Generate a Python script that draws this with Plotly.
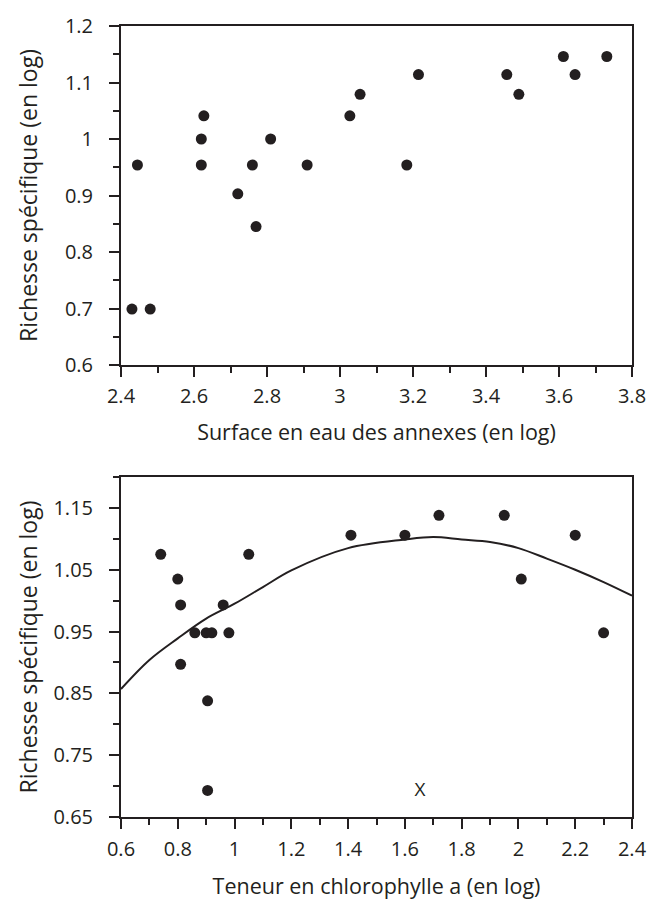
import plotly.graph_objects as go

# --- Top panel: surface en eau vs richesse spécifique ---
surface_x = [2.43, 2.48, 2.445, 2.62, 2.62, 2.627, 2.72, 2.76, 2.77, 2.81, 2.91,
             3.027, 3.055, 3.183, 3.215, 3.457, 3.49, 3.612, 3.644, 3.731]
surface_y = [0.699, 0.699, 0.954, 0.954, 1.0, 1.041, 0.903, 0.954, 0.845, 1.0, 0.954,
             1.041, 1.079, 0.954, 1.114, 1.114, 1.079, 1.146, 1.114, 1.146]

# --- Bottom panel: chlorophylle a vs richesse spécifique ---
chloro_x = [0.74, 0.80, 0.81, 0.81, 0.86, 0.90, 0.92, 0.96, 0.98, 0.905, 0.905,
            1.05, 1.41, 1.60, 1.72, 1.95, 2.01, 2.20, 2.30]
chloro_y = [1.075, 1.035, 0.993, 0.897, 0.948, 0.948, 0.948, 0.993, 0.948, 0.838, 0.693,
            1.075, 1.106, 1.106, 1.138, 1.138, 1.035, 1.106, 0.948]

# fitted curve
curve_x = [0.6, 0.7, 0.8, 0.9, 1.0, 1.1, 1.2, 1.4, 1.6, 1.7, 1.8, 1.9, 2.0, 2.1, 2.2, 2.3, 2.4]
curve_y = [0.857, 0.904, 0.939, 0.971, 0.995, 1.022, 1.049, 1.085, 1.099, 1.103, 1.099,
           1.095, 1.085, 1.068, 1.050, 1.030, 1.008]

# outlier marker "X"
outlier_x = [1.653]
outlier_y = [0.692]
outlier_label = ["X"]

INK = "#231f20"
FONT = "Open Sans"
TICK_FS = 20
XTITLE_FS = 21.5
YTITLE_FS = 23

fig = go.Figure()
fig.add_trace(go.Scatter(x=surface_x, y=surface_y, mode="markers",
                         marker=dict(size=11, color=INK), xaxis="x", yaxis="y",
                         showlegend=False))
fig.add_trace(go.Scatter(x=curve_x, y=curve_y, mode="lines", line=dict(color=INK, width=2, shape="spline"),
                         xaxis="x2", yaxis="y2", showlegend=False))
fig.add_trace(go.Scatter(x=chloro_x, y=chloro_y, mode="markers",
                         marker=dict(size=11, color=INK), xaxis="x2", yaxis="y2",
                         showlegend=False))
fig.add_trace(go.Scatter(x=outlier_x, y=outlier_y, mode="text", text=outlier_label,
                         textfont=dict(family=FONT, size=19, color=INK),
                         textposition="middle center",
                         xaxis="x2", yaxis="y2", showlegend=False))


def axis(rng, minor_dtick, tick0, title, title_fs, standoff, domain, anchor, tls, tickvals, ticktext):
    return dict(range=rng, domain=domain, anchor=anchor,
                showline=True, linecolor=INK, linewidth=2, mirror=True,
                ticks="outside", ticklen=10, tickwidth=2, tickcolor=INK,
                tickmode="array", tickvals=tickvals, ticktext=ticktext,
                minor=dict(ticks="outside", ticklen=6, tickwidth=2, tickcolor=INK,
                           dtick=minor_dtick, tick0=tick0, showgrid=False),
                showgrid=False, zeroline=False,
                tickfont=dict(family=FONT, size=TICK_FS, color=INK),
                ticklabelstandoff=tls,
                title=dict(text=title, font=dict(family=FONT, size=title_fs, color=INK), standoff=standoff),
                automargin=False, fixedrange=True)


fig.update_layout(
    width=660, height=900,
    margin=dict(l=121, r=28, t=26, b=83),
    paper_bgcolor="white", plot_bgcolor="white",
    font=dict(family=FONT, size=TICK_FS, color=INK),
    hovermode=False,
    xaxis=axis([2.4, 3.8], 0.1, 2.4, "Surface en eau des annexes (en log)", XTITLE_FS, 17,
               [0, 1], "y", 2,
               [2.4, 2.6, 2.8, 3.0, 3.2, 3.4, 3.6, 3.8],
               ["2.4", "2.6", "2.8", "3", "3.2", "3.4", "3.6", "3.8"]),
    yaxis=axis([0.6, 1.2], 0.05, 0.6, "Richesse spécifique (en log)", YTITLE_FS, 21,
               [0.5714, 1.0], "x", 12,
               [0.6, 0.7, 0.8, 0.9, 1.0, 1.1, 1.2],
               ["0.6", "0.7", "0.8", "0.9", "1", "1.1", "1.2"]),
    xaxis2=axis([0.6, 2.4], 0.1, 0.6, "Teneur en chlorophylle a (en log)", XTITLE_FS, 21,
                [0, 1], "y2", 3,
                [0.6, 0.8, 1.0, 1.2, 1.4, 1.6, 1.8, 2.0, 2.2, 2.4],
                ["0.6", "0.8", "1", "1.2", "1.4", "1.6", "1.8", "2", "2.2", "2.4"]),
    yaxis2=axis([0.65, 1.2], 0.05, 0.65, "Richesse spécifique (en log)", YTITLE_FS, 9,
                [0, 0.4298], "x2", 12,
                [0.65, 0.75, 0.85, 0.95, 1.05, 1.15],
                ["0.65", "0.75", "0.85", "0.95", "1.05", "1.15"]),
)

fig.write_html("out.html", config={"displayModeBar": False},
               post_script="document.body.style.margin='0px';")
